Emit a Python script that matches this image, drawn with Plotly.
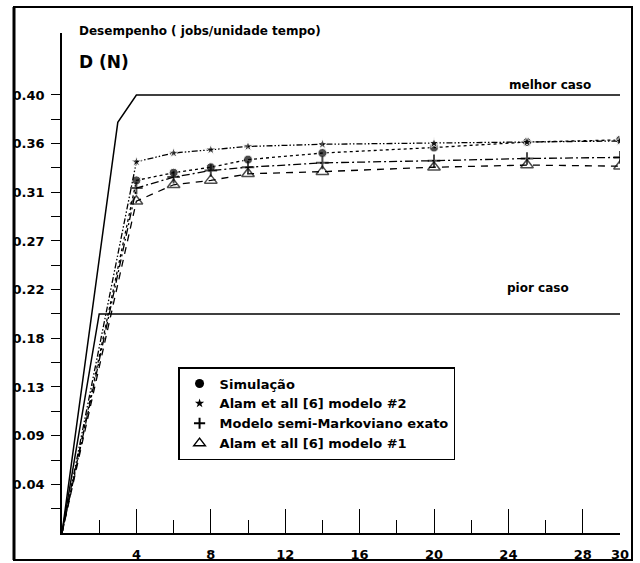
import plotly.graph_objects as go

# ---------------- data ----------------
n_vals = [0, 4, 6, 8, 10, 14, 20, 25, 30]
simulacao = [0, 0.322, 0.329, 0.334, 0.341, 0.347, 0.352, 0.357, 0.359]
alam2 = [0, 0.339, 0.347, 0.350, 0.353, 0.355, 0.356, 0.357, 0.358]
semi_markov = [0, 0.315, 0.325, 0.331, 0.334, 0.338, 0.340, 0.342, 0.343]
alam1 = [0, 0.303, 0.318, 0.322, 0.328, 0.330, 0.334, 0.336, 0.335]

best_n = [0, 3, 4, 30]
best_d = [0, 0.375, 0.40, 0.40]
worst_n = [0, 2, 30]
worst_d = [0, 0.20, 0.20]

x_major_ticks = [4, 8, 12, 16, 20, 24, 28]
x_minor_ticks = [2, 6, 10, 14, 18, 22, 26, 30]
x_label_vals = [4, 8, 12, 16, 20, 24, 28, 30]
x_label_text = ["4", "8", "12", "16", "20", "24", "28", "30"]

y_label_text = ["0.04", "0.09", "0.13", "0.18", "0.22", "0.27", "0.31", "0.36", "0.40"]
y_step = 0.4 / len(y_label_text)
y_label_vals = [y_step * (i + 1) for i in range(len(y_label_text))]
y_minor_vals = [y_step * (i + 0.5) for i in range(len(y_label_text))]

series_names = ["Simulação", "Alam et all [6] modelo #2",
                "Modelo semi-Markoviano exato", "Alam et all [6] modelo #1"]

# ---------------- figure ----------------
FONT = "DejaVu Sans, Liberation Sans, sans-serif"
fig = go.Figure()

def msizes(s):
    return [0] + [s] * (len(n_vals) - 1)

fig.add_trace(go.Scatter(x=best_n, y=best_d, mode="lines",
                         line=dict(color="black", width=1.5), showlegend=False))
fig.add_trace(go.Scatter(x=worst_n, y=worst_d, mode="lines",
                         line=dict(color="black", width=1.5), showlegend=False))

styles = [
    (simulacao, "dot", dict(symbol="circle", size=msizes(9), color="black")),
    (alam2, "6px,2px,1.5px,2px,1.5px,2px", dict(symbol="star", size=msizes(8), color="black")),
    (semi_markov, "8px,3px,2px,3px", dict(symbol="cross-thin", size=msizes(9), color="black",
                                          line=dict(color="black", width=2))),
    (alam1, "7px,6px", dict(symbol="triangle-up-open", size=msizes(11), color="black",
                             line=dict(color="black", width=1.5))),
]
for (ys, dash, mk) in styles:
    fig.add_trace(go.Scatter(x=n_vals, y=ys, mode="lines+markers",
                             line=dict(color="black", width=1.3, dash=dash),
                             marker=mk, showlegend=False))

legend_markers = [
    dict(symbol="circle", size=9, color="black"),
    dict(symbol="star", size=7, color="black"),
    dict(symbol="cross-thin", size=8, color="black", line=dict(color="black", width=2)),
    dict(symbol="triangle-up-open", size=10, color="black", line=dict(color="black", width=1.5)),
]
for name, mk in zip(series_names, legend_markers):
    fig.add_trace(go.Scatter(x=[None], y=[None], mode="markers", name=name, marker=mk))

# invisible trace for label axis
fig.add_trace(go.Scatter(x=[None], y=[None], xaxis="x2", showlegend=False))

fig.update_layout(
    width=640, height=563,
    margin=dict(l=62, r=20, t=33, b=30, autoexpand=False),
    paper_bgcolor="white", plot_bgcolor="white",
    font=dict(family=FONT, color="black", size=13),
    xaxis=dict(range=[0, 30], showgrid=False, zeroline=False, automargin=False,
               showline=True, linecolor="black", linewidth=1.5,
               tickmode="array", tickvals=x_major_ticks, ticks="inside",
               ticklen=24, tickwidth=1.3, tickcolor="black", showticklabels=False,
               minor=dict(tickmode="array", tickvals=x_minor_ticks, ticks="inside",
                          ticklen=13, tickwidth=1.3, tickcolor="black", showgrid=False)),
    xaxis2=dict(range=[0, 30], overlaying="x", matches="x", side="bottom",
                automargin=False,
                showgrid=False, zeroline=False, showline=False, ticks="",
                tickmode="array", tickvals=x_label_vals, ticktext=x_label_text,
                tickfont=dict(family=FONT, size=13, weight="bold"),
                ticklabelstandoff=12),
    yaxis=dict(range=[0, 0.4566], showgrid=False, zeroline=False, automargin=False,
               showline=True, linecolor="black", linewidth=1.5,
               tickmode="array", tickvals=y_label_vals, ticktext=y_label_text,
               ticks="outside", ticklen=9, tickwidth=1.3, tickcolor="black",
               tickfont=dict(family=FONT, size=13, weight="bold"),
               ticklabelstandoff=4,
               minor=dict(tickmode="array", tickvals=y_minor_vals, ticks="outside",
                          ticklen=9, tickwidth=1.3, tickcolor="black", showgrid=False)),
    legend=dict(x=0.208, y=(533 - 367) / 500, xanchor="left", yanchor="top",
                bgcolor="white", bordercolor="black", borderwidth=1.5,
                font=dict(family=FONT, size=13, weight="bold"), tracegroupgap=0),
    showlegend=True,
)

# outer frame
fig.add_shape(type="rect", xref="paper", yref="paper",
              x0=(14 - 62) / 558, x1=(632 - 62) / 558,
              y0=(533 - 560) / 500, y1=(533 - 7) / 500,
              line=dict(color="black", width=2), layer="above")
fig.add_shape(type="rect", xref="paper", yref="paper",
              x0=-0.2, x1=(13 - 62) / 558, y0=-0.1, y1=1.1,
              line=dict(width=0), fillcolor="white", layer="above")
fig.add_shape(type="line", xref="paper", yref="paper",
              x0=(14 - 62) / 558, x1=(14 - 62) / 558,
              y0=(533 - 560) / 500, y1=(533 - 7) / 500,
              line=dict(color="black", width=3), layer="above")

# texts
fig.add_annotation(xref="paper", yref="paper", x=(77 - 62) / 558, y=(533 - 31) / 500,
                   xanchor="left", yanchor="middle", showarrow=False,
                   text="Desempenho ( jobs/unidade tempo)",
                   font=dict(family=FONT, size=12, weight="bold"))
fig.add_annotation(xref="paper", yref="paper", x=(77 - 62) / 558, y=(533 - 62) / 500,
                   xanchor="left", yanchor="middle", showarrow=False,
                   text="D (N)", font=dict(family=FONT, size=17, weight="bold"))
fig.add_annotation(xref="paper", yref="paper", x=(550 - 62) / 558, y=(533 - 85) / 500,
                   xanchor="center", yanchor="middle", showarrow=False,
                   text="melhor caso", font=dict(family=FONT, size=12, weight="bold"))
fig.add_annotation(xref="paper", yref="paper", x=(538 - 62) / 558, y=(533 - 288) / 500,
                   xanchor="center", yanchor="middle", showarrow=False,
                   text="pior caso", font=dict(family=FONT, size=12, weight="bold"))

fig.write_html("out.html")
